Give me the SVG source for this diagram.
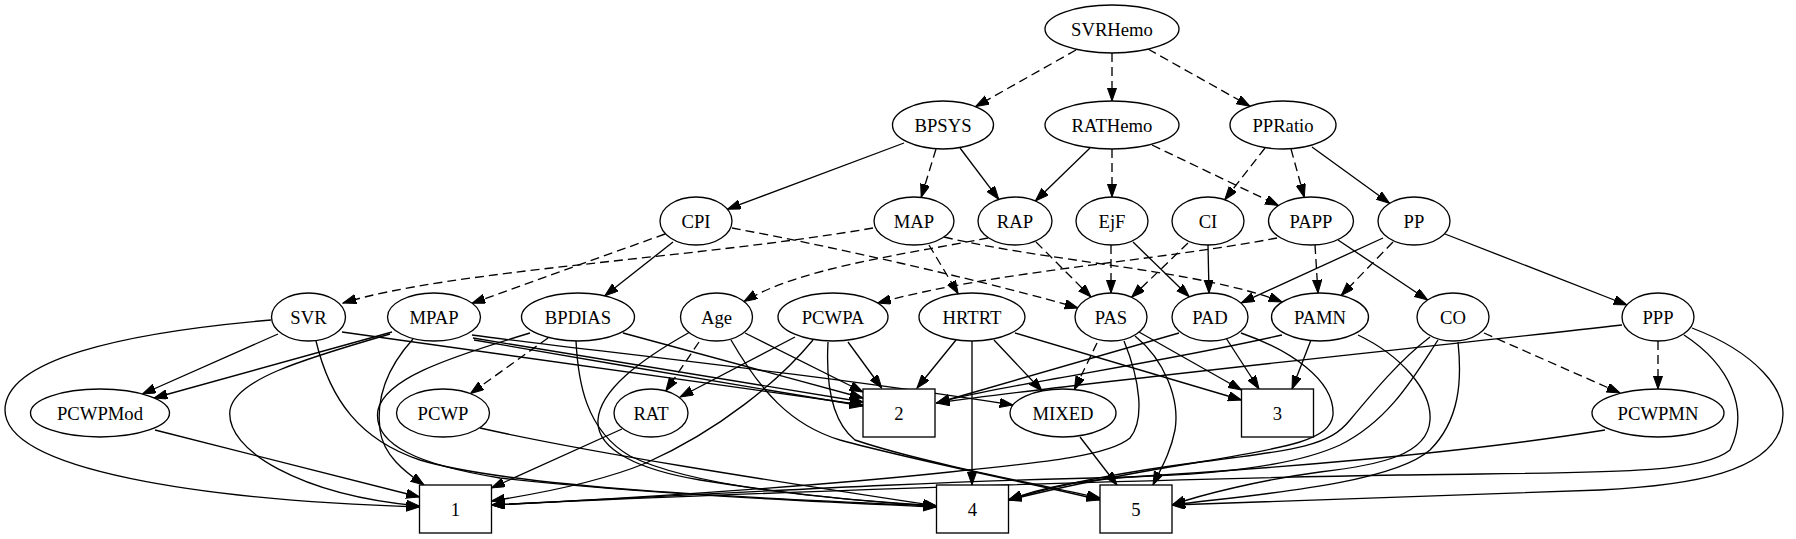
<svg xmlns="http://www.w3.org/2000/svg" width="1796" height="539" viewBox="0 0 1796 539" font-family="'Liberation Serif', 'Times New Roman', serif">
<defs>
<style>
.n ellipse,.n rect{fill:#fff;stroke:#000;stroke-width:1.33}
.n text{font-family:'Liberation Serif','Times New Roman',serif;font-size:18.67px;text-anchor:middle;fill:#000}
.e path{fill:none;stroke:#000;stroke-width:1.33;marker-end:url(#ah)}
.e path.d{stroke-dasharray:9,5}
</style>
<marker id="ah" markerUnits="userSpaceOnUse" markerWidth="14" markerHeight="10" viewBox="0 0 14 10" refX="13.3" refY="4.67" orient="auto">
<path d="M0,0 L13.3,4.67 L0,9.33 z" fill="#000" stroke="#000" stroke-width="1"/>
</marker>
</defs>
<rect width="1796" height="539" fill="#fff"/>
<g id="edges" class="e">
<path class="d" d="M1076,50 L975.6,106.6"/>
<path class="d" d="M1112,53 L1112,101"/>
<path class="d" d="M1148,49 L1250,106.3"/>
<path class="d" d="M936,149 L921.2,197.4"/>
<path class="d" d="M1112,149 L1112,197"/>
<path class="d" d="M1152,145 L1278.5,205.5"/>
<path class="d" d="M1265,148 L1224.7,199.7"/>
<path class="d" d="M1291,149 L1304.3,197.3"/>
<path class="d" d="M665,234 L472,303.3"/>
<path class="d" d="M873,228 C700,258 450,270 343,303"/>
<path class="d" d="M732,228 C850,250 1000,285 1078,308"/>
<path class="d" d="M929,245 L958.2,293.8"/>
<path class="d" d="M944,237 C1050,262 1200,270 1282,302"/>
<path class="d" d="M988,238 C900,255 800,268 744,301.5"/>
<path class="d" d="M1036,242 L1091,297"/>
<path class="d" d="M1111,245 L1111,293"/>
<path class="d" d="M1188,243 L1131.6,297.3"/>
<path class="d" d="M1277,238 C1150,262 1000,270 877.5,303"/>
<path class="d" d="M1315,245 L1318,293"/>
<path class="d" d="M1393,242 L1341.2,295.4"/>
<path class="d" d="M548,338 L470.4,393.6"/>
<path class="d" d="M699,342 L665.8,391"/>
<path class="d" d="M1097,343 L1074.4,389.6"/>
<path class="d" d="M1484,333 L1620,393"/>
<path class="d" d="M1658,341 L1658,389"/>
<path d="M904,143 L727.4,209.2"/>
<path d="M960,148 L998.8,199.4"/>
<path d="M1090,148 L1035.4,201"/>
<path d="M1312,147 L1389.6,203.3"/>
<path d="M673,242 L604.8,295.8"/>
<path d="M1133,242 L1189.2,296.7"/>
<path d="M1208,245 L1209,293"/>
<path d="M1338,240 L1427.6,300"/>
<path d="M1383,238 L1241.3,302.8"/>
<path d="M1445,234 L1627,305"/>
<path d="M278,334 L142.5,394"/>
<path d="M392,332 L154,398"/>
<path d="M271,320 C120,333 5,360 5,410 C5,470 200,500 419.5,507"/>
<path d="M390,334 C300,360 235,380 230,410 C225,450 300,495 419.5,506"/>
<path d="M413,339 C385,370 376,400 380,430 C383,455 405,472 424,485"/>
<path d="M155,430 L419.5,497"/>
<path d="M342,332 L863,405"/>
<path d="M316,341 C330,400 360,440 420,460 C520,490 800,500 936.5,506"/>
<path d="M473,338 L863,402"/>
<path d="M474,340 C600,362 780,392 863,406"/>
<path d="M472,335 C600,352 800,372 1013,405"/>
<path d="M623,333 L863,398"/>
<path d="M576,341 C578,380 585,430 630,456 C700,490 850,500 936.5,506"/>
<path d="M530,333 C440,360 385,380 378,410 C372,445 420,465 500,478 C650,495 850,503 936.5,507"/>
<path d="M745,333 L863,392"/>
<path d="M690,332 C640,360 600,390 598,420 C596,450 640,470 700,480 C800,496 880,503 936.5,506"/>
<path d="M731,340 C760,390 790,425 840,440 C920,462 1040,485 1100,500"/>
<path d="M795,337 L680,397"/>
<path d="M848,342 L881.7,388"/>
<path d="M813,340 C780,380 720,430 646,463 C600,482 530,495 491.5,501"/>
<path d="M828,342 C826,380 830,420 855,440 C920,462 1040,485 1100,498"/>
<path d="M956,340 L917,388"/>
<path d="M972,341 L972,485"/>
<path d="M994,340 L1042,391"/>
<path d="M1015,333 L1241.5,400"/>
<path d="M1139,332 L1241.5,390"/>
<path d="M1135,336 C1165,360 1180,400 1175,430 C1170,455 1160,470 1153,485"/>
<path d="M1124,341 C1140,380 1145,420 1130,438 C1110,455 1050,462 950,472 C800,488 600,500 491.5,505"/>
<path d="M1179,333 L936.5,403"/>
<path d="M1226,338 L1259,389"/>
<path d="M1241,333 C1290,350 1335,380 1333,415 C1330,440 1290,447 1200,462 C1100,478 1050,490 1008.5,500"/>
<path d="M1282,335 C1150,365 1000,385 936.5,403"/>
<path d="M1311,340 L1292,389"/>
<path d="M1358,335 C1400,355 1432,390 1430,420 C1428,455 1380,465 1320,472 C1260,480 1200,495 1172,505"/>
<path d="M1430,337 C1400,360 1375,390 1350,420 C1330,445 1300,450 1200,462 C1100,475 1040,490 1008.5,500"/>
<path d="M1438,340 C1415,375 1390,420 1340,445 C1290,468 1200,475 1130,477 C900,482 700,495 491.5,505"/>
<path d="M1458,342 C1462,380 1460,420 1430,450 C1390,485 1250,495 1172,505"/>
<path d="M1622,325 C1400,350 1100,380 936.5,403"/>
<path d="M1684,335 C1730,365 1750,410 1730,450 C1700,475 1600,472 1400,475 C1100,480 700,495 491.5,505"/>
<path d="M1692,328 C1750,350 1795,390 1780,430 C1765,470 1700,485 1600,490 C1400,498 1250,503 1172,505"/>
<path d="M1605,430 C1450,455 1250,470 1130,477 C1060,482 1030,492 1008.5,500"/>
<path d="M480,428 C600,455 800,485 936.5,506"/>
<path d="M622,429 L491.5,488"/>
<path d="M1080,437 L1117,485"/>
</g>
<g id="SVRHemo" class="n"><ellipse cx="1112" cy="29" rx="67" ry="24"/><text x="1112" y="35.5" font-family="Liberation Serif, serif">SVRHemo</text></g>
<g id="BPSYS" class="n"><ellipse cx="943" cy="125" rx="50.5" ry="24"/><text x="943" y="131.5" font-family="Liberation Serif, serif">BPSYS</text></g>
<g id="RATHemo" class="n"><ellipse cx="1112" cy="125" rx="67" ry="24"/><text x="1112" y="131.5" font-family="Liberation Serif, serif">RATHemo</text></g>
<g id="PPRatio" class="n"><ellipse cx="1283" cy="125" rx="53" ry="24"/><text x="1283" y="131.5" font-family="Liberation Serif, serif">PPRatio</text></g>
<g id="CPI" class="n"><ellipse cx="696" cy="221" rx="36" ry="24"/><text x="696" y="227.5" font-family="Liberation Serif, serif">CPI</text></g>
<g id="MAP" class="n"><ellipse cx="914" cy="221" rx="40" ry="24"/><text x="914" y="227.5" font-family="Liberation Serif, serif">MAP</text></g>
<g id="RAP" class="n"><ellipse cx="1015" cy="221" rx="37" ry="24"/><text x="1015" y="227.5" font-family="Liberation Serif, serif">RAP</text></g>
<g id="EjF" class="n"><ellipse cx="1112" cy="221" rx="36" ry="24"/><text x="1112" y="227.5" font-family="Liberation Serif, serif">EjF</text></g>
<g id="CI" class="n"><ellipse cx="1208" cy="221" rx="36" ry="24"/><text x="1208" y="227.5" font-family="Liberation Serif, serif">CI</text></g>
<g id="PAPP" class="n"><ellipse cx="1311" cy="221" rx="42.5" ry="24"/><text x="1311" y="227.5" font-family="Liberation Serif, serif">PAPP</text></g>
<g id="PP" class="n"><ellipse cx="1414" cy="221" rx="36" ry="24"/><text x="1414" y="227.5" font-family="Liberation Serif, serif">PP</text></g>
<g id="SVR" class="n"><ellipse cx="308.5" cy="317" rx="37" ry="24"/><text x="308.5" y="323.5" font-family="Liberation Serif, serif">SVR</text></g>
<g id="MPAP" class="n"><ellipse cx="434" cy="317" rx="46.5" ry="24"/><text x="434" y="323.5" font-family="Liberation Serif, serif">MPAP</text></g>
<g id="BPDIAS" class="n"><ellipse cx="578" cy="317" rx="56.5" ry="24"/><text x="578" y="323.5" font-family="Liberation Serif, serif">BPDIAS</text></g>
<g id="Age" class="n"><ellipse cx="716.5" cy="317" rx="36" ry="24"/><text x="716.5" y="323.5" font-family="Liberation Serif, serif">Age</text></g>
<g id="PCWPA" class="n"><ellipse cx="833" cy="317" rx="55" ry="24"/><text x="833" y="323.5" font-family="Liberation Serif, serif">PCWPA</text></g>
<g id="HRTRT" class="n"><ellipse cx="972" cy="317" rx="53" ry="24"/><text x="972" y="323.5" font-family="Liberation Serif, serif">HRTRT</text></g>
<g id="PAS" class="n"><ellipse cx="1111" cy="317" rx="36" ry="24"/><text x="1111" y="323.5" font-family="Liberation Serif, serif">PAS</text></g>
<g id="PAD" class="n"><ellipse cx="1210" cy="317" rx="38" ry="24"/><text x="1210" y="323.5" font-family="Liberation Serif, serif">PAD</text></g>
<g id="PAMN" class="n"><ellipse cx="1320" cy="317" rx="48.5" ry="24"/><text x="1320" y="323.5" font-family="Liberation Serif, serif">PAMN</text></g>
<g id="CO" class="n"><ellipse cx="1453" cy="317" rx="36" ry="24"/><text x="1453" y="323.5" font-family="Liberation Serif, serif">CO</text></g>
<g id="PPP" class="n"><ellipse cx="1658" cy="317" rx="36" ry="24"/><text x="1658" y="323.5" font-family="Liberation Serif, serif">PPP</text></g>
<g id="PCWPMod" class="n"><ellipse cx="100" cy="413" rx="69.5" ry="24"/><text x="100" y="419.5" font-family="Liberation Serif, serif">PCWPMod</text></g>
<g id="PCWP" class="n"><ellipse cx="443" cy="413" rx="46.5" ry="24"/><text x="443" y="419.5" font-family="Liberation Serif, serif">PCWP</text></g>
<g id="RAT" class="n"><ellipse cx="651" cy="413" rx="37" ry="24"/><text x="651" y="419.5" font-family="Liberation Serif, serif">RAT</text></g>
<g id="n2" class="n"><rect x="863" y="389" width="72" height="48"/><text x="899" y="419.5" font-family="Liberation Serif, serif">2</text></g>
<g id="MIXED" class="n"><ellipse cx="1063" cy="413" rx="53" ry="24"/><text x="1063" y="419.5" font-family="Liberation Serif, serif">MIXED</text></g>
<g id="n3" class="n"><rect x="1241.5" y="389" width="72" height="48"/><text x="1277.5" y="419.5" font-family="Liberation Serif, serif">3</text></g>
<g id="PCWPMN" class="n"><ellipse cx="1658" cy="413" rx="66" ry="24"/><text x="1658" y="419.5" font-family="Liberation Serif, serif">PCWPMN</text></g>
<g id="n1" class="n"><rect x="419.5" y="485" width="72" height="48"/><text x="455.5" y="515.5" font-family="Liberation Serif, serif">1</text></g>
<g id="n4" class="n"><rect x="936.5" y="485" width="72" height="48"/><text x="972.5" y="515.5" font-family="Liberation Serif, serif">4</text></g>
<g id="n5" class="n"><rect x="1100" y="485" width="72" height="48"/><text x="1136" y="515.5" font-family="Liberation Serif, serif">5</text></g>
</svg>
